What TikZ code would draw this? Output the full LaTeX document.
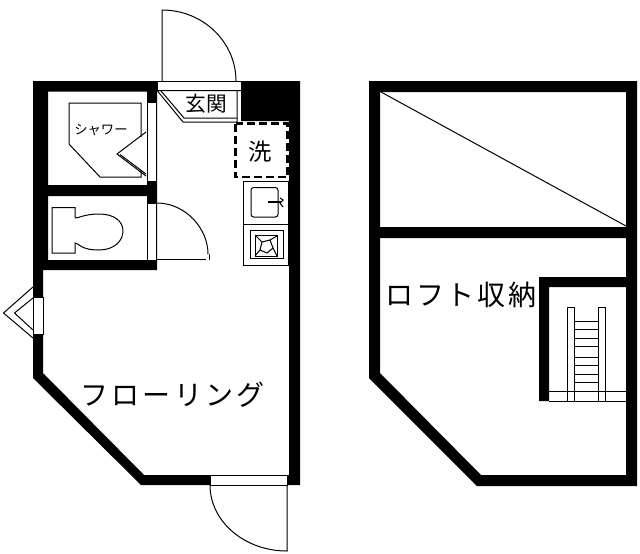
\documentclass[tikz,border=0pt]{standalone}
\usepackage{fontspec}
\newfontfamily\jp{Noto Sans CJK JP}
\newfontfamily\jpa[LetterSpace=11]{Noto Sans CJK JP}
\newfontfamily\jpb[LetterSpace=10]{Noto Sans CJK JP}
\tikzset{
 thin line/.style={draw=black,line width=0.75pt,line join=miter},
 opening/.style={draw=black,line width=0.6pt,fill=white},
 wall/.style={fill=black,even odd rule},
 dashwall/.style={draw=black,line width=2.1pt,dash pattern=on 6pt off 3pt},
 label/.style={inner sep=0pt,text=black,font=\jp}
}
\begin{document}
\begin{tikzpicture}[x=0.75pt,y=-0.75pt]
\useasboundingbox (0,0) rectangle (640,554);
\fill[white] (0,0) rectangle (640,554);
% left plan walls
\fill[wall]
 (33,81)--(300,81)--(300,485)--(141,485)--(33,378)--cycle
 (48,91.5)--(147,91.5)--(147,185)--(48,185)--cycle
 (48,196)--(147,196)--(147,260)--(48,260)--cycle
 (157,91)--(241,91)--(241,121)--(289,121)--(289,475)--(144,475)--(43,373)--(43,270)--(157,270)--cycle;
% openings
\draw[opening] (157,81) rectangle (241,90.5);
\draw[opening] (147.5,102) rectangle (156.5,181);
\draw[opening] (147.5,203) rectangle (156.5,260);
\draw[opening] (33.5,297) rectangle (43,334);
\draw[opening] (210,475) rectangle (287,485);
% entrance door
\draw[thin line] (162,81)--(162,10) .. controls (203,10) and (236,42) .. (236,81);
% entrance step
\draw[thin line] (157.5,91)--(183,122)--(237,122)--(237,91);
\draw[thin line] (161,91)--(184,118)--(237,118);
\node[label,font=\jp\fontsize{15.5pt}{17pt}\selectfont] (genkan) at (206,104) {玄関};
% washer
\draw[dashwall] (235.5,123.5) rectangle (287.5,177);
\node[label,font=\jp\fontsize{17.5pt}{19pt}\selectfont] (sen) at (260.5,152) {洗};
% kitchen
\draw[thin line,line width=0.6pt] (243.5,181.5) rectangle (288.5,265);
\draw[thin line,line width=0.6pt] (243.5,224.5)--(288.5,224.5);
\draw[thin line,rounded corners=2pt] (251,187.5) rectangle (278,217);
\draw[black,line width=1.5pt] (268,202)--(281,202);
\draw[black,line width=0.8pt] (280,198)--(283,200)--(280,203)--(283,207);
\draw[thin line] (250.5,230.5) rectangle (283,258);
\draw[thin line] (255,235) rectangle (277.5,256);
\draw[thin line] (262,242)--(270,240)--(273,248)--(267,253)--(260,250)--cycle;
\draw[thin line] (255,235)--(262,242) (277,236)--(270,240) (277,256)--(273,248) (255,256)--(260,250);
% shower
\draw[thin line] (141,137)--(141,103)--(69,103)--(69,144)--(100,177)--(141,177)--(141,170);
\draw[thin line] (146,132)--(117,154)--(146,176);
\draw[thin line] (120,154.5)--(146,174);
\node[label,font=\jp\fontsize{10pt}{11pt}\selectfont] (shower) at (101,130) {シャワー};
% toilet
\draw[thin line] (75,218)--(75,207.5)--(52,207.5)--(52,253)--(75,253)--(75,243)
 .. controls (79,243) and (80,250) .. (99,250)
 .. controls (114,250) and (123,241) .. (123,231)
 .. controls (123,221) and (114,214) .. (99,214)
 .. controls (85,214) and (79,218) .. (75,218);
% toilet door
\draw[thin line] (157,203) .. controls (185,203) and (208,228) .. (208,254);
\draw[thin line] (157,259)--(206,259);
\draw[thin line,line width=1pt] (209.5,254)--(209.5,260);
% bay window
\draw[thin line] (33,287)--(3.5,313)--(33,338);
\draw[thin line] (33,298)--(14.5,313)--(33,330);
% main door
\draw[thin line] (287,485)--(287,551) .. controls (244.5,551) and (210,521.5) .. (210,485);
\node[label,font=\jpa\fontsize{21pt}{23pt}\selectfont] (floor) at (172.5,395) {フローリング};
% right plan walls
\fill[wall]
 (369,81)--(637,81)--(637,486)--(477,486)--(369,378)--cycle
 (380,92)--(626,92)--(626,227)--(380,227)--cycle
 (380,238)--(626,238)--(626,277)--(539,277)--(539,401)--(626,401)--(626,475)--(481,475)--(380,373)--cycle
 (549,287)--(626,287)--(626,401)--(549,401)--cycle;
\draw[thin line] (381,92)--(626,226);
\draw[thin line] (549,391)--(626,391) (549,401)--(626,401);
\draw[thin line] (567.5,401)--(567.5,307.5)--(574,307.5)--(574,401);
\draw[thin line] (598.5,401)--(598.5,307.5)--(605,307.5)--(605,401);
\foreach \yy in {321,329,338,346,357,365,374,382}
  \draw[thin line] (574,\yy)--(598.5,\yy);
\node[label,font=\jpb\fontsize{21pt}{23pt}\selectfont] (loft) at (461,295) {ロフト収納};
\end{tikzpicture}
\end{document}
